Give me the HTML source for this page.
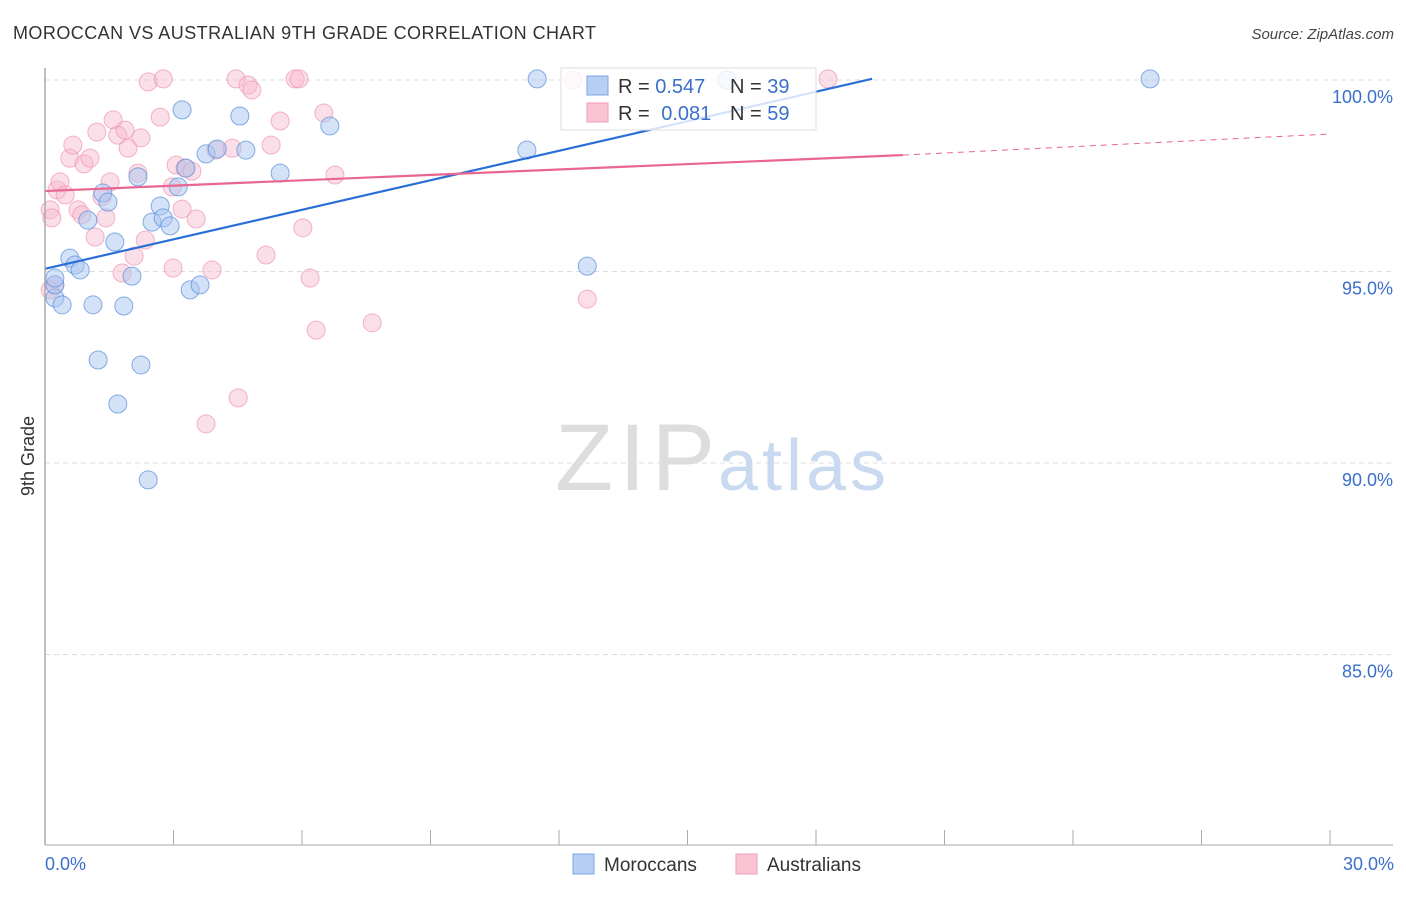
<!DOCTYPE html>
<html><head><meta charset="utf-8"><style>
body{margin:0;background:#fff;font-family:"Liberation Sans",sans-serif}
svg text{font-family:"Liberation Sans",sans-serif}
</style></head><body>
<svg id="chart" width="1406" height="892" viewBox="0 0 1406 892" xmlns="http://www.w3.org/2000/svg">
<text x="13" y="39" font-size="18" fill="#333" textLength="583">MOROCCAN VS AUSTRALIAN 9TH GRADE CORRELATION CHART</text>
<text x="1394" y="39" font-size="15" fill="#444" text-anchor="end" font-style="italic">Source: ZipAtlas.com</text>
<g id="grid"></g>
<text x="555" y="490" font-size="95" fill="#ddd" font-family="Liberation Serif" textLength="160">ZIP</text>
<text x="718" y="490" font-size="72" fill="#c9daf0" textLength="168">atlas</text>
<g id="points"></g>
<g id="trends"></g>
<line x1="45" y1="68" x2="45" y2="845" stroke="#aaa" stroke-width="1.5"/>
<line x1="45" y1="845" x2="1393" y2="845" stroke="#aaa" stroke-width="1"/>
<g id="ticks"></g>
<text transform="translate(34,456) rotate(-90)" font-size="18" fill="#333" text-anchor="middle">9th Grade</text>
<text x="45" y="870" font-size="18" fill="#3a6fcc">0.0%</text>
<text x="1394" y="870" font-size="18" fill="#3a6fcc" text-anchor="end">30.0%</text>
<g>
<rect x="561" y="68" width="255" height="62" fill="#fff" fill-opacity="0.8" stroke="#ddd"/>
<rect x="587" y="76" width="21" height="19" fill="#b7cff2" stroke="#7aa6e6"/>
<rect x="587" y="103" width="21" height="19" fill="#f9c5d4" stroke="#f09ab5"/>
<text x="618" y="93" font-size="20" fill="#333">R = <tspan fill="#3a6fcc">0.547</tspan></text>
<text x="730" y="93" font-size="20" fill="#333">N = <tspan fill="#3a6fcc">39</tspan></text>
<text x="618" y="120" font-size="20" fill="#333">R = <tspan fill="#3a6fcc" dx="6">0.081</tspan></text>
<text x="730" y="120" font-size="20" fill="#333">N = <tspan fill="#3a6fcc">59</tspan></text>
</g>
<g>
<rect x="573" y="854" width="21" height="20" fill="#b7cff2" stroke="#7aa6e6"/>
<text x="604" y="871" font-size="19" fill="#333">Moroccans</text>
<rect x="736" y="854" width="21" height="20" fill="#f9c5d4" stroke="#f09ab5"/>
<text x="767" y="871" font-size="19" fill="#333">Australians</text>
</g>
</svg>
<script>
const yTicks=[100,95,90,85];
const yTickLabels=["100.0%","95.0%","90.0%","85.0%"];
const xTicks=[0,3,6,9,12,15,18,21,24,27,30];
const blueX=[0.23,0.23,0.23,0.40,0.58,0.70,0.82,1.00,1.12,1.24,1.35,1.47,1.63,1.70,1.84,2.03,2.17,2.24,2.41,2.50,2.69,2.76,2.92,3.11,3.20,3.29,3.39,3.62,3.76,4.02,4.55,4.69,5.49,6.65,11.25,11.49,12.66,15.92,25.80];
const blueY=[94.31,94.65,94.83,94.13,95.35,95.17,95.04,96.34,94.13,92.69,97.05,96.81,95.77,91.54,94.10,94.88,97.47,92.56,89.56,96.29,96.71,96.40,96.19,97.21,99.22,97.70,94.52,94.65,98.07,98.20,99.06,98.17,97.57,98.80,98.17,100.03,95.14,100.0,100.03];
const pinkX=[0.12,0.16,0.28,0.35,0.47,0.58,0.65,0.77,0.86,0.91,1.05,1.17,1.21,1.33,1.42,1.52,1.59,1.70,1.80,1.87,1.94,2.08,2.17,2.24,2.34,2.41,2.69,2.76,2.97,2.99,3.06,3.20,3.27,3.43,3.53,3.76,3.90,3.99,4.37,4.46,4.51,4.74,4.83,5.16,5.28,5.49,5.84,5.93,6.02,6.19,6.33,6.51,6.77,7.64,12.33,12.66,18.28,0.23,0.12];
const pinkY=[96.61,96.40,97.13,97.34,97.00,97.96,98.30,96.61,96.48,97.81,97.96,95.90,98.64,96.95,96.40,97.34,98.96,98.56,94.96,98.69,98.22,95.40,97.57,98.49,95.82,99.95,99.03,100.03,97.21,95.09,97.78,96.63,97.70,97.62,96.37,91.02,95.04,98.17,98.22,100.03,91.70,99.87,99.74,95.43,98.30,98.93,100.03,100.03,96.14,94.83,93.47,99.14,97.52,93.66,100.0,94.28,100.03,94.65,94.52];
const blueTrend=[95.07,100.03,19.31];
const pinkTrend=[97.10,98.04,20.03,98.59];
const NS="http://www.w3.org/2000/svg";
const X=v=>45+v/30*1285;
const Y=v=>80+(100-v)/5*191.5;
function mk(t,a,p){const e=document.createElementNS(NS,t);for(const k in a)e.setAttribute(k,a[k]);p.appendChild(e);return e;}
const grid=document.getElementById('grid');
yTicks.forEach((t,i)=>{
 const l=mk('line',{x1:45,x2:1393,y1:Y(t),y2:Y(t),stroke:'#ddd','stroke-dasharray':'5,4'},grid);
 
 
 const tx=mk('text',{x:1393,y:Y(t)+23,'font-size':18,fill:'#3a6fcc','text-anchor':'end'},grid);
 tx.textContent=yTickLabels[i];
 
 
});
const ticks=document.getElementById('ticks');
xTicks.forEach(t=>{
 const l=mk('line',{x1:X(t),x2:X(t),y1:830,y2:845,stroke:'#aaa'},ticks);
 
 
});
const pts=document.getElementById('points');
pinkX.forEach((x,i)=>{
 const c=mk('circle',{cx:X(x),cy:Y(pinkY[i]),r:9,fill:'#f7b8cb','fill-opacity':0.45,stroke:'#ef94b0','stroke-opacity':0.7},pts);
 
 
});
blueX.forEach((x,i)=>{
 const c=mk('circle',{cx:X(x),cy:Y(blueY[i]),r:9,fill:'#a9c6ef','fill-opacity':0.5,stroke:'#5e92dd','stroke-opacity':0.75},pts);
 
 
});
const tr=document.getElementById('trends');
let l1=mk('line',{x1:X(0),y1:Y(blueTrend[0]),x2:X(blueTrend[2]),y2:Y(blueTrend[1]),stroke:'#2a6fd6','stroke-width':2.2},tr);


let l2=mk('line',{x1:X(0),y1:Y(pinkTrend[0]),x2:X(pinkTrend[2]),y2:Y(pinkTrend[1]),stroke:'#e8668f','stroke-width':2.2},tr);


let l3=mk('line',{x1:X(pinkTrend[2]),y1:Y(pinkTrend[1]),x2:X(30),y2:Y(pinkTrend[3]),stroke:'#e8668f','stroke-width':1,'stroke-dasharray':'6,5'},tr);


</script>
</body></html>
